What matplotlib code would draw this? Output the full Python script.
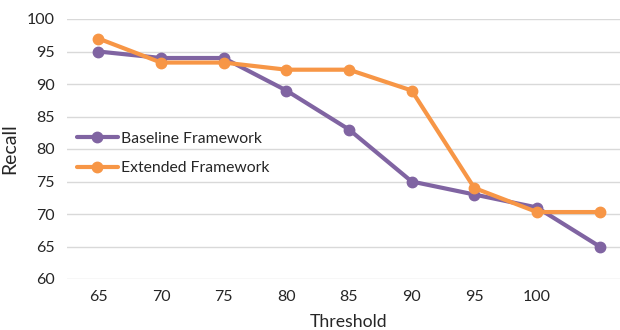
import matplotlib
matplotlib.use("Agg")
import matplotlib.pyplot as plt

# values
thresholds = ["65", "70", "75", "80", "85", "90", "95", "100", ""]
baseline = [95, 94, 94, 89, 83, 75, 73, 71, 65]
extended = [97, 93.3, 93.3, 92.2, 92.2, 89, 74, 70.3, 70.3]

purple = "#8064A2"
orange = "#F79646"
text_col = "#262626"

plt.rcParams["font.family"] = ["Lato", "DejaVu Sans"]

fig = plt.figure(figsize=(6.2, 3.3), dpi=100)
# plot area in pixels: x 67..631 (runs off right edge), y 19..279
ax = fig.add_axes([67 / 620, (330 - 279) / 330, (631 - 67) / 620, 260 / 330])

x = list(range(len(thresholds)))
ax.plot(x, baseline, color=purple, lw=3, marker="o", ms=7.5, label="Baseline Framework",
        solid_capstyle="round", zorder=3)
ax.plot(x, extended, color=orange, lw=3, marker="o", ms=7.5, label="Extended Framework",
        solid_capstyle="round", zorder=3)

ax.set_xlim(-0.5, len(thresholds) - 0.5)
ax.set_ylim(60, 100)
ax.set_yticks(range(60, 101, 5))
ax.set_xticks(x)
ax.set_xticklabels(thresholds)

ax.grid(axis="y", color="#D9D9D9", lw=1)
ax.set_axisbelow(True)
for s in ax.spines.values():
    s.set_visible(False)
ax.tick_params(length=0, labelsize=11.5, colors=text_col, pad=8)
ax.tick_params(axis="y", pad=9)

ax.set_xlabel("Threshold", fontsize=12.7, color=text_col, labelpad=7)
ax.set_ylabel("Recall", fontsize=14, color=text_col, labelpad=6)

ax.legend(loc="center left", bbox_to_anchor=(77 / 620, (330 - 153.5) / 330),
          bbox_transform=fig.transFigure, frameon=False, fontsize=11.3,
          borderpad=0, borderaxespad=0, handlelength=2.6, handletextpad=0.2,
          labelspacing=1.0, labelcolor=text_col)

fig.savefig("out.png", dpi=100)
